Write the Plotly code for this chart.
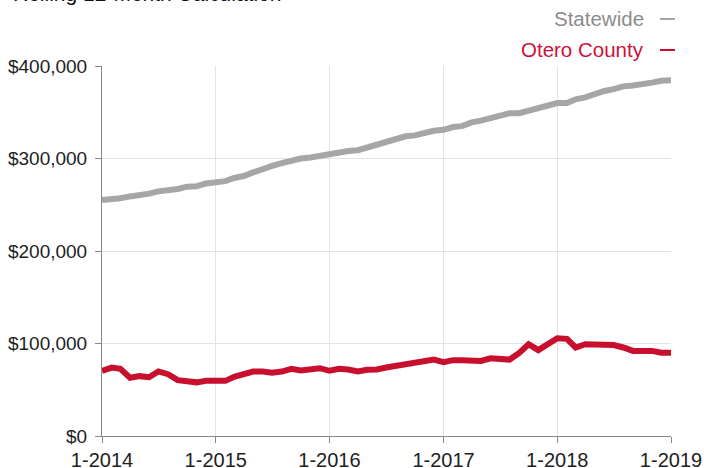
import plotly.graph_objects as go
import pandas as pd

months = pd.date_range("2014-01-01", "2019-01-01", freq="MS")

statewide = [
    255000, 255500, 257000, 259000, 260000, 262000, 264500, 265000, 267000, 269500, 270000, 273000,
    275000, 275500, 279000, 281000, 285000, 289000, 292000, 295000, 298000, 300000, 301000, 303000,
    305000, 305500, 308000, 309000, 312000, 315000, 318000, 320000, 324000, 325000, 328000, 330000,
    331000, 334000, 335000, 339000, 341000, 344000, 347000, 349000, 349000, 352000, 355000, 358000,
    360000, 360000, 364000, 366000, 370000, 373000, 375000, 378000, 379000, 380000, 382000, 384000,
    384500,
]

otero = [
    70500, 74000, 72600, 63000, 64700, 63500, 69800, 66800, 60400, 60000, 58000, 59600,
    59600, 59600, 64000, 67500, 69700, 69700, 68300, 69700, 72600, 70800, 72600, 73300,
    70500, 72600, 71900, 69700, 71500, 71900, 74000, 75800, 77600, 79000, 82000, 82600,
    79800, 82000, 82000, 82000, 81200, 84000, 82600, 82600, 89900, 99200, 92800, 99200,
    105700, 105000, 95700, 99200, 98400, 98400, 98400, 95700, 92000, 92000, 92000, 90000,
    90000,
]

series_names = ["Statewide", "Otero County"]
title_text = "Rolling 12-Month Calculation"

GRAY = "#a6a6a6"
RED = "#c8102e"
FONT = "Liberation Sans, Arial, Helvetica, sans-serif"

W, H = 704, 468
L, T, R, B = 102, 66, 33, 32
PW, PH = W - L - R, H - T - B


def px_x(px):
    return (px - L) / PW


def px_y(py):
    return 1 + (T - py) / PH


fig = go.Figure()
fig.add_trace(go.Scatter(x=months, y=statewide, mode="lines", name=series_names[0],
                         line=dict(color=GRAY, width=6), showlegend=False))
fig.add_trace(go.Scatter(x=months, y=otero, mode="lines", name=series_names[1],
                         line=dict(color=RED, width=6), showlegend=False))

fig.update_layout(
    width=W, height=H,
    margin=dict(l=L, r=R, t=T, b=B),
    paper_bgcolor="white", plot_bgcolor="white",
    font=dict(family=FONT, size=18, color="#222222"),
    xaxis=dict(
        range=[months[0], months[-1]], automargin=False,
        dtick="M12", tick0="2014-01-01", tickformat="%-m-%Y",
        showgrid=True, gridcolor="#e3e3e3", gridwidth=1,
        showline=True, linecolor="#888888", linewidth=1,
        ticks="outside", ticklen=6, tickcolor="#888888",
        tickfont=dict(size=20, color="#222222"),
        ticklabelstandoff=0,
        zeroline=False,
    ),
    yaxis=dict(
        range=[0, 400000], dtick=100000, tickprefix="$", tickformat=",",
        automargin=False,
        showgrid=True, gridcolor="#e3e3e3", gridwidth=1,
        showline=True, linecolor="#888888", linewidth=1,
        ticks="outside", ticklen=6, tickcolor="#888888",
        tickfont=dict(size=19, color="#222222"),
        ticklabelstandoff=4,
        zeroline=False,
    ),
)

# partially visible title at the very top
fig.add_annotation(text=title_text, xref="paper", yref="paper",
                   x=px_x(11), y=px_y(-7), xanchor="left", yanchor="middle",
                   showarrow=False, font=dict(size=21, color="#111111", family=FONT))

# legend-like labels at top right
legend_rows = [(series_names[0], "#8c8c8c", GRAY, 18), (series_names[1], "#d0103a", RED, 49)]
for name, tcol, lcol, yc in legend_rows:
    fig.add_annotation(text=name, xref="paper", yref="paper",
                       x=px_x(646), y=px_y(yc), xanchor="right", yanchor="middle",
                       showarrow=False, font=dict(size=20.5, color=tcol, family=FONT))
    fig.add_shape(type="line", xref="paper", yref="paper",
                  x0=px_x(660), x1=px_x(675), y0=px_y(yc + 1), y1=px_y(yc + 1),
                  line=dict(color=lcol, width=2))

fig.write_html("out.html", config={"displayModeBar": False},
               post_script="document.body.style.margin='0';document.body.style.overflow='hidden';")
